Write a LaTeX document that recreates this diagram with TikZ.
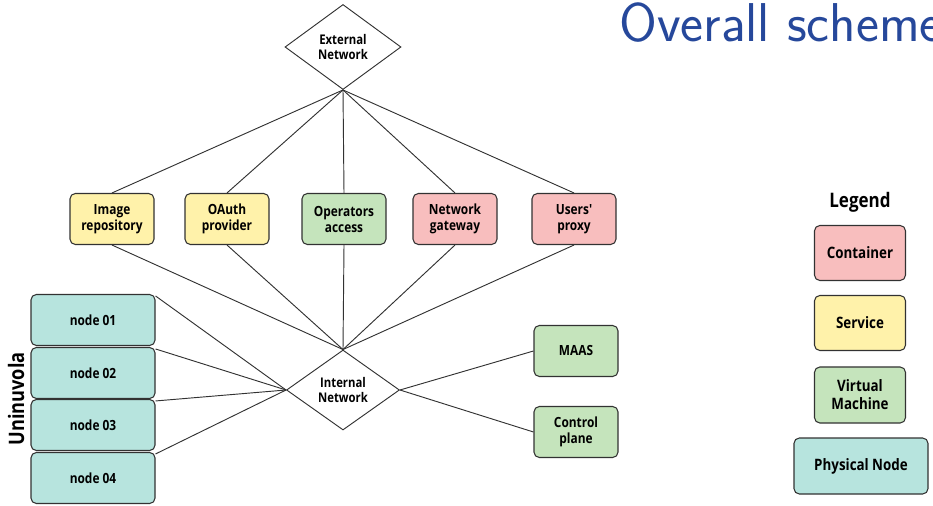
\documentclass[tikz,border=0pt]{standalone}
\usepackage{fontspec}
\newfontfamily\boxfont{Open Sans}[FakeStretch=0.85]
\usetikzlibrary{shapes.geometric}
\definecolor{svcyellow}{RGB}{255,242,170}
\definecolor{vmgreen}{RGB}{197,228,188}
\definecolor{ctred}{RGB}{248,190,190}
\definecolor{phyteal}{RGB}{183,228,222}
\definecolor{edgegray}{RGB}{50,50,50}
\definecolor{titleblue}{RGB}{38,72,155}
\newlength{\pxu}
\setlength{\pxu}{0.75pt}
\tikzset{
  box/.style={draw=edgegray, line width=0.8pt, rounded corners=4pt, minimum width=84\pxu, minimum height=51\pxu,
    align=center, font=\boxfont\bfseries\fontsize{10.5}{12}\selectfont, inner sep=1pt},
  service/.style={box, fill=svcyellow},
  vm/.style={box, fill=vmgreen},
  container/.style={box, fill=ctred},
  physical/.style={box, fill=phyteal},
  legendbox/.style={font=\boxfont\bfseries\fontsize{11.8}{13.5}\selectfont},
  net/.style={diamond, draw=edgegray, line width=0.7pt, fill=white, align=center, inner sep=0pt,
    font=\boxfont\bfseries\fontsize{10}{11.5}\selectfont},
  link/.style={draw=edgegray, line width=0.7pt},
}
\begin{document}
\begin{tikzpicture}[x=0.75pt,y=-0.75pt]
\useasboundingbox (0,0) rectangle (933,506);
\clip (0,0) rectangle (933,506);

% title
\node[anchor=base west, inner sep=0pt, text=titleblue, font=\sffamily\fontsize{41}{45}\selectfont] (title) at (619,42) {Overall scheme};

% network diamonds
\node[net, minimum width=116\pxu, minimum height=85\pxu, aspect=1.36] (ext) at (343,47) {External\\Network};
\node[net, minimum width=113\pxu, minimum height=80\pxu, aspect=1.41] (int) at (343,390) {Internal\\Network};

% services and containers
\node[service]   (img)  at (112,219) {Image\\repository};
\node[service]   (oauth) at (227,219) {OAuth\\provider};
\node[vm]        (ops)  at (344,219) {Operators\\access};
\node[container] (gw)   at (455,219) {Network\\gateway};
\node[container] (proxy) at (574,219) {Users'\\proxy};

% physical nodes
\node[physical, minimum width=124\pxu] (n1) at (93,320) {node 01};
\node[physical, minimum width=124\pxu] (n2) at (93,373) {node 02};
\node[physical, minimum width=124\pxu] (n3) at (93,425) {node 03};
\node[physical, minimum width=124\pxu] (n4) at (93,478) {node 04};
\node[rotate=90, font=\boxfont\bfseries\fontsize{16}{18}\selectfont, inner sep=0pt] (uni) at (16,399) {Uninuvola};

% virtual machines on the right
\node[vm] (maas) at (576,351) {MAAS};
\node[vm] (ctrl) at (576,432) {Control\\plane};

% connectors
\foreach \b in {img,oauth,ops,gw,proxy} {
  \draw[link] (ext.south) -- (\b.north);
  \draw[link] (\b.south) -- (int.north);
}
\foreach \n in {n1,n2,n3,n4} {
  \draw[link] ([yshift=-2\pxu]\n.north east) -- (int.west);
}
\draw[link] (int.east) -- (maas.west);
\draw[link] (int.east) -- (ctrl.west);

% legend
\node[font=\boxfont\bfseries\fontsize{15}{17}\selectfont] (leg) at (860,202) {Legend};
\node[container, legendbox, minimum width=91\pxu, minimum height=55\pxu] (lc) at (860,253) {Container};
\node[service, legendbox, minimum width=91\pxu, minimum height=55\pxu] (ls) at (860,323) {Service};
\node[vm, legendbox, minimum width=91\pxu, minimum height=56\pxu] (lv) at (860,395) {Virtual\\Machine};
\node[physical, legendbox, minimum width=134\pxu, minimum height=56\pxu] (lp) at (861,466) {Physical Node};
\end{tikzpicture}
\end{document}
